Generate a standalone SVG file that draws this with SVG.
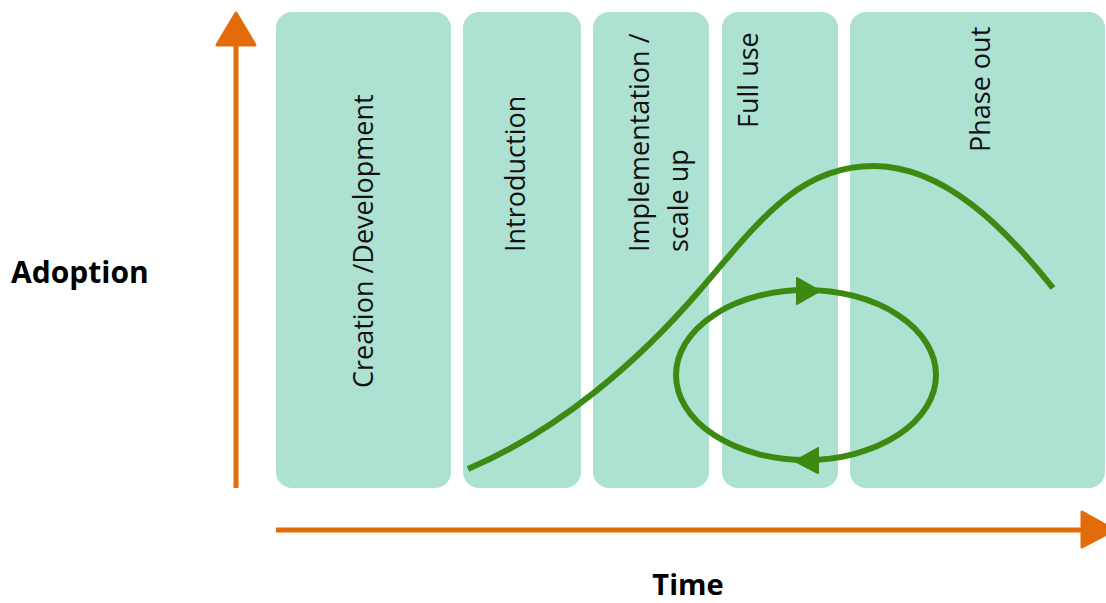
<svg xmlns="http://www.w3.org/2000/svg" width="1106" height="603" viewBox="0 0 1106 603">
<style>
.box{fill:#ade1d2}
.lbl{font-family:"Open Sans","Noto Sans",sans-serif;font-size:27px;fill:#111}
.ax{font-family:"Open Sans","Noto Sans",sans-serif;font-size:30px;font-weight:bold;fill:#000}
.axis{stroke:#e36c0a;stroke-width:5;fill:none}
.head{fill:#e36c0a;stroke:#e36c0a;stroke-width:3;stroke-linejoin:round}
.curve{stroke:#3d8a12;stroke-width:6;fill:none;stroke-linecap:butt}
.ghead{fill:#3d8a12;stroke:#3d8a12;stroke-width:2;stroke-linejoin:round}
</style>
<rect width="1106" height="603" fill="#ffffff"/>
<g id="phase-creation">
<rect class="box" x="276" y="12" width="175" height="476" rx="16"/>
<text class="lbl" x="373" y="388" transform="rotate(-90 373 388)">Creation /Development</text>
</g>
<g id="phase-introduction">
<rect class="box" x="463" y="12" width="118" height="476" rx="16"/>
<text class="lbl" x="525" y="252" transform="rotate(-90 525 252)">Introduction</text>
</g>
<g id="phase-implementation">
<rect class="box" x="593" y="12" width="116" height="476" rx="16"/>
<text class="lbl" x="649" y="252" transform="rotate(-90 649 252)">Implementation /</text>
<text class="lbl" x="688" y="252" transform="rotate(-90 688 252)">scale up</text>
</g>
<g id="phase-fulluse">
<rect class="box" x="722" y="12" width="116" height="476" rx="16"/>
<text class="lbl" x="758" y="128" transform="rotate(-90 758 128)">Full use</text>
</g>
<g id="phase-phaseout">
<rect class="box" x="850" y="12" width="255" height="476" rx="16"/>
<text class="lbl" x="990" y="152" transform="rotate(-90 990 152)">Phase out</text>
</g>
<g id="axis-y">
<line class="axis" x1="236" y1="44" x2="236" y2="488"/>
<polygon class="head" points="236,13 217,45 255,45"/>
<text class="ax" x="11" y="283">Adoption</text>
</g>
<g id="axis-x">
<line class="axis" x1="276" y1="530" x2="1083" y2="530"/>
<polygon class="head" points="1082,512 1082,547 1114,530"/>
<text class="ax" x="688" y="595" text-anchor="middle" style="font-size:29px">Time</text>
</g>
<g id="connectors">
<path class="curve" d="M468,469 C560,430 640,360 700,290 S800,165 875,166 C945,167 1005,228 1053,288"/>
<ellipse class="curve" cx="806" cy="375" rx="130" ry="85"/>
<polygon class="ghead" points="797,278 820,291 797,304"/>
<polygon class="ghead" points="818,448 795,461 818,473"/>
</g>
</svg>
